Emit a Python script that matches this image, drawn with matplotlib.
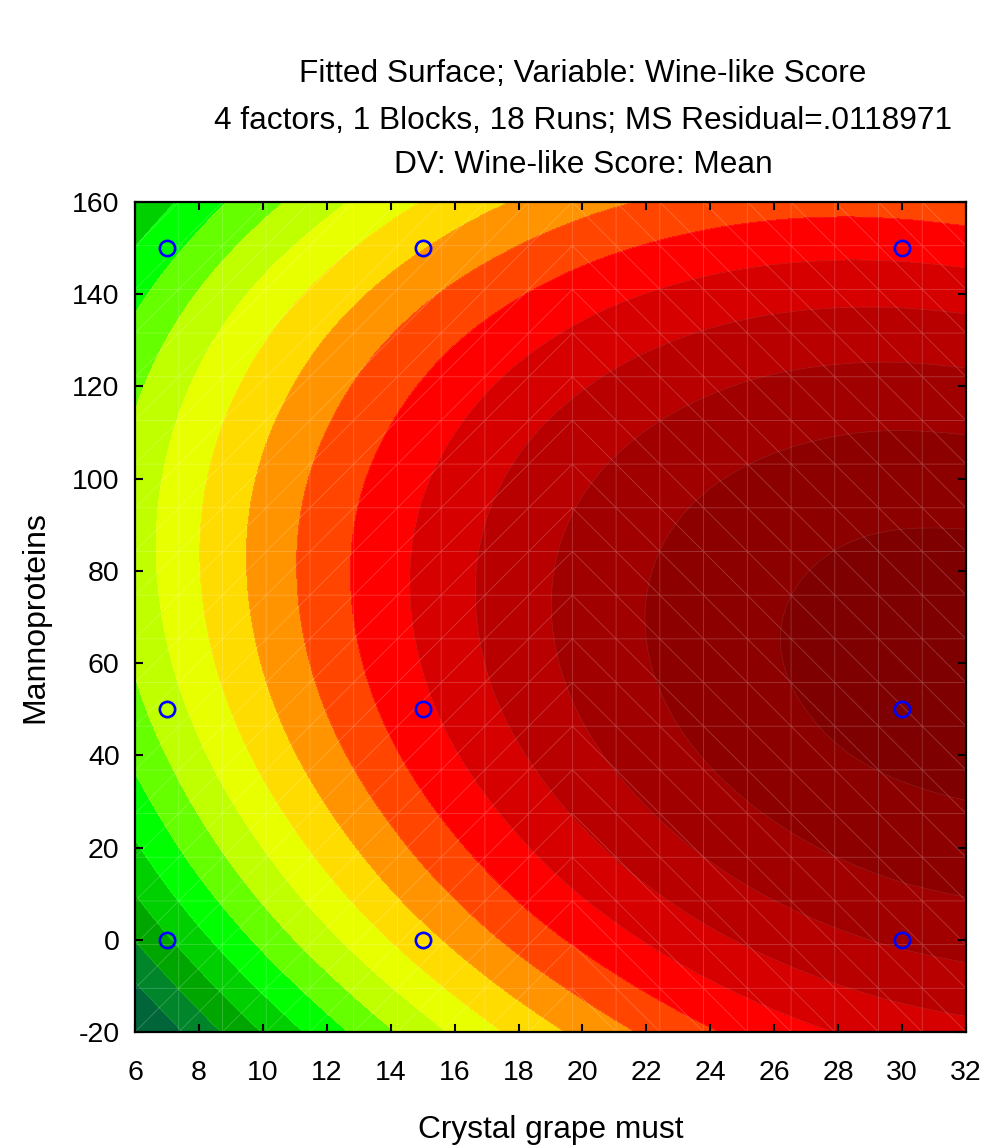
import numpy as np
import matplotlib
matplotlib.use("Agg")
import matplotlib.pyplot as plt
import matplotlib.tri as mtri
from matplotlib.colors import ListedColormap, BoundaryNorm

plt.rcParams['font.family'] = ['Liberation Sans', 'DejaVu Sans']
plt.rcParams['axes.unicode_minus'] = False

# grid (score in contour-level units)
must = [6, 8, 10, 12, 14, 16, 18, 20, 22, 24, 26, 28, 30, 32]
manno = [-20, 0, 20, 40, 60, 80, 100, 120, 140, 160]
score = [
    [-0.31, 1.43, 3.04, 4.53, 5.90, 7.14, 8.26, 9.26, 10.14, 10.90, 11.53, 12.04, 12.43, 12.69],
    [2.02, 3.70, 5.27, 6.71, 8.03, 9.22, 10.30, 11.24, 12.07, 12.78, 13.36, 13.82, 14.16, 14.38],
    [3.86, 5.50, 7.01, 8.40, 9.67, 10.82, 11.84, 12.74, 13.52, 14.18, 14.71, 15.12, 15.41, 15.58],
    [5.22, 6.80, 8.27, 9.61, 10.83, 11.93, 12.90, 13.75, 14.48, 15.09, 15.57, 15.94, 16.17, 16.29],
    [6.09, 7.63, 9.04, 10.33, 11.50, 12.55, 13.48, 14.28, 14.96, 15.52, 15.95, 16.26, 16.45, 16.52],
    [6.48, 7.97, 9.33, 10.57, 11.69, 12.69, 13.57, 14.32, 14.95, 15.46, 15.84, 16.11, 16.25, 16.27],
    [6.38, 7.82, 9.14, 10.33, 11.40, 12.35, 13.18, 13.88, 14.46, 14.92, 15.25, 15.47, 15.56, 15.53],
    [5.80, 7.19, 8.45, 9.60, 10.62, 11.52, 12.30, 12.95, 13.48, 13.89, 14.18, 14.34, 14.38, 14.30],
    [4.73, 6.07, 7.29, 8.38, 9.36, 10.21, 10.93, 11.54, 12.02, 12.38, 12.62, 12.73, 12.72, 12.59],
    [3.18, 4.47, 5.64, 6.68, 7.61, 8.41, 9.09, 9.64, 10.07, 10.38, 10.57, 10.64, 10.58, 10.40],
]

# design points (runs)
run_must = [7, 15, 30, 7, 15, 30, 7, 15, 30]
run_manno = [0, 0, 0, 50, 50, 50, 150, 150, 150]

levels = [-5, 1, 2, 3, 4, 5, 6, 7, 8, 9, 10, 11, 12, 13, 14, 15, 16, 20]
band_colors = ['#00663a', '#00852a', '#00a600', '#00cf00', '#00ff00', '#66ff00',
               '#c0ff00', '#e8ff00', '#ffdc00', '#ff9300', '#ff4500', '#ff0000',
               '#d60000', '#b80000', '#a10000', '#8d0000', '#7e0000']

cmap = ListedColormap(band_colors)
norm = BoundaryNorm(levels, cmap.N)

fig = plt.figure(figsize=(9.88, 11.47), dpi=100)
ax = fig.add_axes([135/988, 1 - 1032/1147, 831/988, 830/1147])

# triangulate the table and let matplotlib smooth it for contouring
nx, ny = len(must), len(manno)
X, Y = np.meshgrid(must, manno)
cells = []
for j in range(ny - 1):
    for i in range(nx - 1):
        a = j*nx + i
        cells += [[a, a + 1, a + nx + 1], [a, a + nx + 1, a + nx]]
tri = mtri.Triangulation(X.ravel(), Y.ravel(), cells)
refiner = mtri.UniformTriRefiner(tri)
tri_fine, z_fine = refiner.refine_field(np.array(score).ravel(), subdiv=3)

ax.tricontourf(tri_fine, z_fine, levels=levels, cmap=cmap, norm=norm)
ax.tricontour(tri_fine, z_fine, levels=levels[1:-1], colors='white',
              linewidths=0.5, alpha=0.12)

# faint mesh of the surface
gx = np.linspace(6, 32, 20)
gy = np.linspace(-20, 160, 20)
MX, MY = np.meshgrid(gx, gy)
tris = []
for j in range(19):
    for i in range(19):
        a = j*20 + i
        b = a + 1
        d = a + 20
        c = d + 1
        if i <= 9:
            tris += [[a, b, c], [a, c, d]]
        else:
            tris += [[a, b, d], [b, c, d]]
mesh = mtri.Triangulation(MX.ravel(), MY.ravel(), tris)
ax.triplot(mesh, color='white', lw=0.6, alpha=0.22)

ax.plot(run_must, run_manno, 'o', ms=11, mfc='none', mec='#0000ff', mew=1.9)

ax.set_xlim(6, 32)
ax.set_ylim(-20, 160)
ax.set_xticks(np.arange(6, 33, 2))
ax.set_yticks(np.arange(-20, 161, 20))
ax.tick_params(direction='in', length=6, width=1.5, top=True, right=True,
               labelsize=20.5, color='black')
ax.tick_params(axis='x', pad=20)
ax.tick_params(axis='y', pad=11)
for s in ax.spines.values():
    s.set_linewidth(1.6)

ax.set_xlabel('Crystal grape must', fontsize=22.8, va='center')
ax.xaxis.set_label_coords(0.5, -0.118)
ax.set_ylabel('Mannoproteins', fontsize=23, va='center')
ax.yaxis.set_label_coords(-0.120, 0.5)

fig.text(583/988, 1 - 74/1147, 'Fitted Surface; Variable: Wine-like Score',
         ha='center', va='center', fontsize=22.8)
fig.text(583/988, 1 - 121/1147, '4 factors, 1 Blocks, 18 Runs; MS Residual=.0118971',
         ha='center', va='center', fontsize=22.8)
fig.text(583/988, 1 - 165/1147, 'DV: Wine-like Score: Mean',
         ha='center', va='center', fontsize=22.8)

fig.savefig('out.png', dpi=100)
